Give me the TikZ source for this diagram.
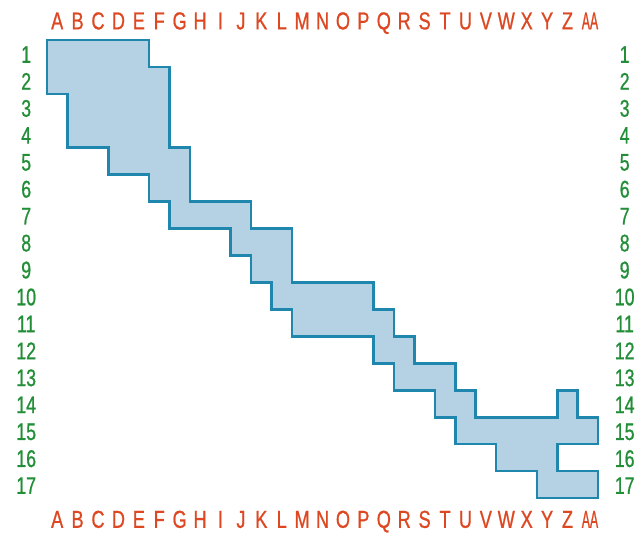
\documentclass[tikz,border=0pt]{standalone}
\usepackage{fontspec}
\setmainfont{Liberation Sans}[FakeStretch=0.74]
\newfontfamily\rotulo{Liberation Sans}[FakeStretch=0.74, FakeBold=0.8]
\newfontfamily\rotuloestrecho{Liberation Sans}[FakeStretch=0.5, FakeBold=0.8]
\definecolor{RojoLetra}{RGB}{221,72,34}
\definecolor{VerdeNumero}{RGB}{34,142,56}
\definecolor{AzulPalido}{RGB}{181,210,228}
\definecolor{AzulBorde}{RGB}{31,134,174}
\tikzset{
  collabel/.style={text=RojoLetra, font=\rotulo\fontsize{24.5}{24.5}\selectfont,
    inner sep=0pt, text height=17.5pt, text depth=0pt},
  colancha/.style={collabel, font=\rotuloestrecho\fontsize{24.5}{24.5}\selectfont},
  rowlabel/.style={text=VerdeNumero, font=\rotulo\fontsize{24}{24}\selectfont,
    inner sep=0pt, text height=17pt, text depth=0pt},
  zonabox/.style={draw=AzulBorde, fill=AzulPalido, line width=2.6pt, line join=miter},
}

\begin{document}
\begin{tikzpicture}[x=20.41pt, y=-26.94pt]
    \useasboundingbox (-2.303,-1.485) rectangle (29.198,18.411);
    % zona sombreada
    \draw[zonabox] (0,0) -- (5,0) -- (5,1) -- (6,1) -- (6,4) -- (7,4) -- (7,6)
      -- (10,6) -- (10,7) -- (12,7) -- (12,9) -- (16,9) -- (16,10) -- (17,10)
      -- (17,11) -- (18,11) -- (18,12) -- (20,12) -- (20,13) -- (21,13) -- (21,14)
      -- (25,14) -- (25,13) -- (26,13) -- (26,14) -- (27,14) -- (27,15) -- (25,15)
      -- (25,16) -- (27,16) -- (27,17) -- (24,17) -- (24,16) -- (22,16) -- (22,15)
      -- (20,15) -- (20,14) -- (19,14) -- (19,13) -- (17,13) -- (17,12) -- (16,12)
      -- (16,11) -- (12,11) -- (12,10) -- (11,10) -- (11,9) -- (10,9) -- (10,8)
      -- (9,8) -- (9,7) -- (6,7) -- (6,6) -- (5,6) -- (5,5) -- (3,5) -- (3,4)
      -- (1,4) -- (1,2) -- (0,2) -- cycle;
    % letras de columna
    \foreach \l [count=\i] in {A,B,C,D,E,F,G,H,I,J,K,L,M,N,O,P,Q,R,S,T,U,V,W,X,Y,Z} {
      \node[collabel] (top\l) at (\i-0.5,-0.72) {\l};
      \node[collabel] (bot\l) at (\i-0.5,17.78) {\l};
    }
    \node[colancha] (topAA) at (26.6,-0.72) {AA};
    \node[colancha] (botAA) at (26.6,17.78) {AA};
    % numeros de fila
    \foreach \n in {1,...,17} {
      \node[rowlabel] (izq\n) at (-1.02,\n-0.47) {\n};
      \node[rowlabel] (der\n) at (28.3,\n-0.47) {\n};
    }
  \end{tikzpicture}
\end{document}
